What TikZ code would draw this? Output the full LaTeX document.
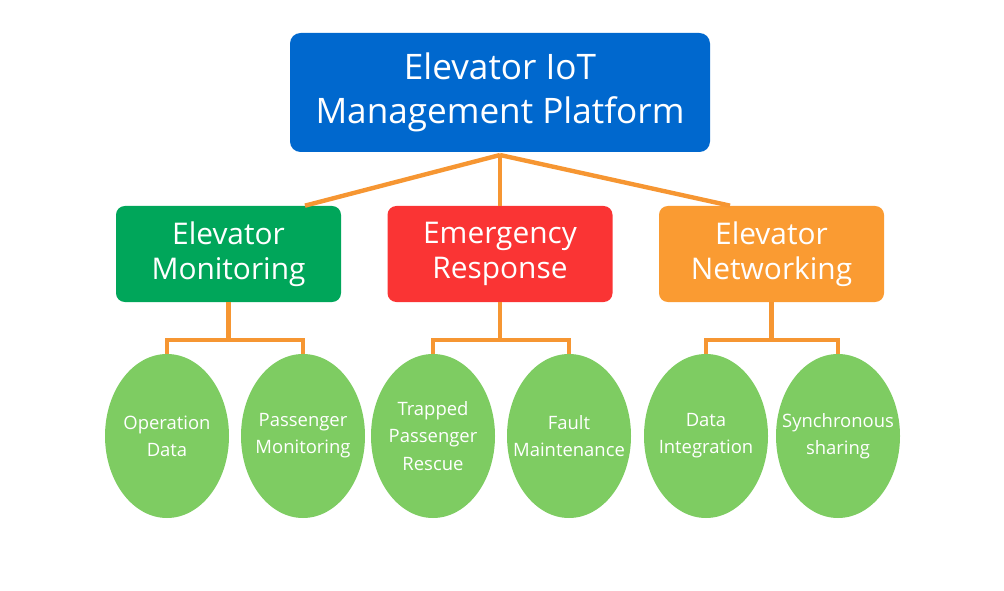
\documentclass[tikz,border=0pt]{standalone}
\usepackage{fontspec}
\setmainfont{Open Sans}
\usetikzlibrary{shapes.geometric}
\definecolor{colorTop}{RGB}{0,104,206}
\definecolor{colorMon}{RGB}{0,166,90}
\definecolor{colorEmg}{RGB}{250,52,52}
\definecolor{colorNet}{RGB}{250,155,50}
\definecolor{colorLeaf}{RGB}{126,204,98}
\definecolor{colorLink}{RGB}{246,150,50}
\tikzset{
	topbox/.style={rounded corners=6pt, fill=colorTop, text=white, align=center,
		minimum width=420*0.02cm, minimum height=119*0.02cm, font=\fontsize{20}{25}\selectfont},
	midbox/.style={rounded corners=5pt, text=white, align=center,
		minimum width=225*0.02cm, minimum height=96*0.02cm, font=\fontsize{17}{20}\selectfont},
	leaf/.style={ellipse, fill=colorLeaf, text=white, align=center,
		minimum width=124*0.02cm, minimum height=164*0.02cm, inner xsep=-16pt, inner ysep=0pt,
		font=\fontsize{10.5}{15.5}\selectfont},
	link/.style={draw=colorLink, line width=2.5pt},
}
\begin{document}
\begin{tikzpicture}[x=0.02cm,y=-0.02cm]
	\useasboundingbox (0,0) rectangle (1004,591);

	\node[topbox] (top) at (500,92.5) {Elevator IoT\\Management Platform};
	\node[midbox, fill=colorMon] (mon) at (228.5,254) {Elevator\\Monitoring};
	\node[midbox, fill=colorEmg] (emg) at (500,254) {Emergency\\Response};
	\node[midbox, fill=colorNet] (net) at (771.5,254) {Elevator\\Networking};

	\node[leaf] (opd) at (167,436) {Operation\\Data};
	\node[leaf] (psm) at (303,436) {Passenger\\Monitoring};
	\node[leaf] (tpr) at (433,436) {Trapped\\Passenger\\Rescue};
	\node[leaf] (flt) at (569,436) {Fault\\Maintenance};
	\node[leaf] (dti) at (706,436) {Data\\Integration};
	\node[leaf] (syn) at (838,436) {Synchronous\\sharing};

	% top level links
	\coordinate (hub) at (500,155);
	\draw[link] (hub) -- (mon.north -| 305,0);
	\draw[link] (hub) -- (emg.north);
	\draw[link] (hub) -- (net.north -| 730,0);

	% branch links
	\foreach \p/\a/\b in {mon/opd/psm, emg/tpr/flt, net/dti/syn}{
		\draw[link] (\p.south) -- (\p.south |- 0,340);
		\draw[link] (\a.north) -- (\a.north |- 0,340) -- (\b.north |- 0,340) -- (\b.north);
	}
\end{tikzpicture}
\end{document}
